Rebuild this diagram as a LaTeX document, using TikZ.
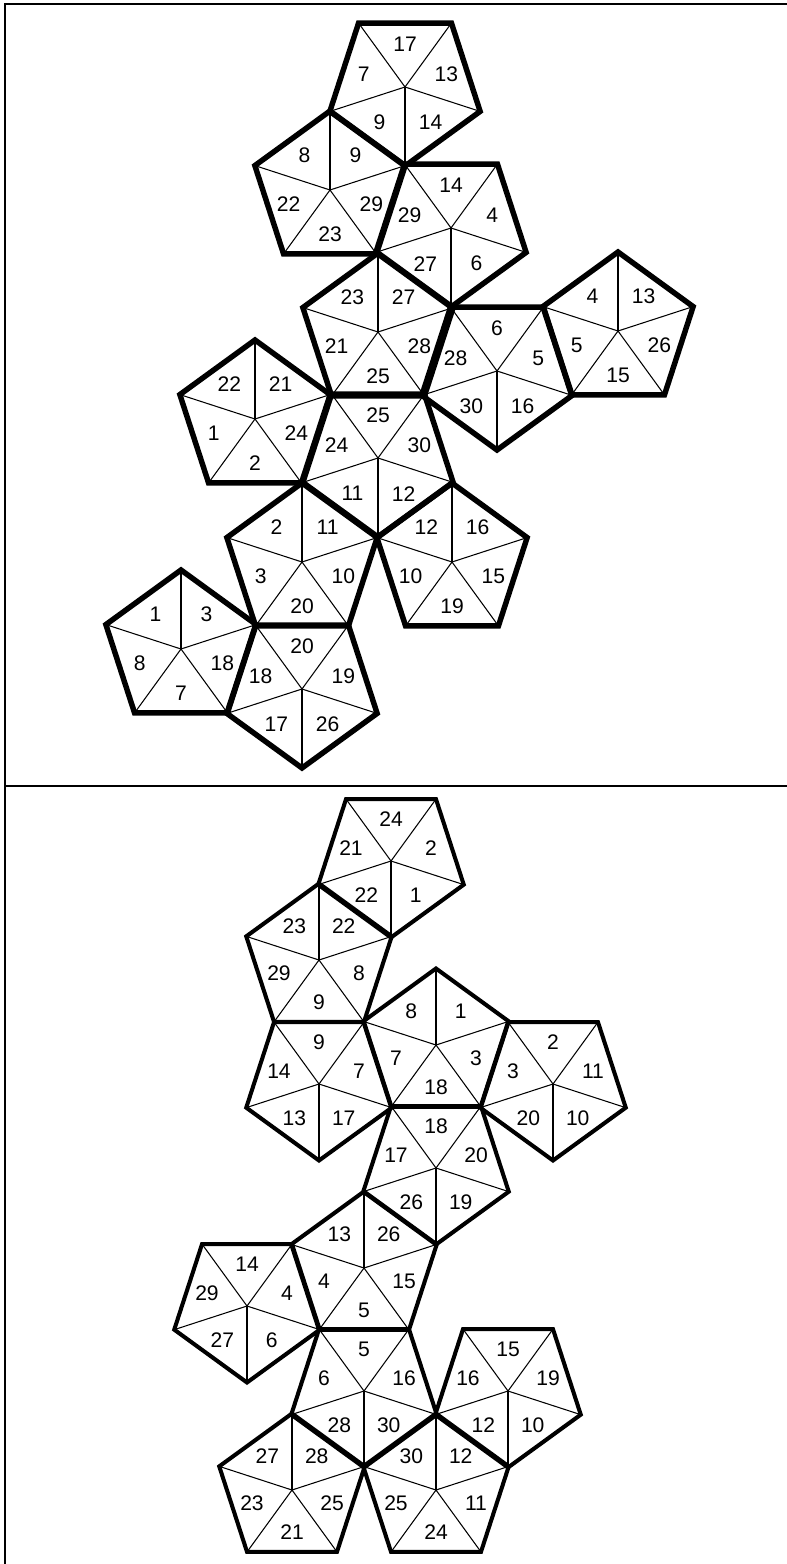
\documentclass[tikz,border=0pt]{standalone}
\usepackage{fontspec}
\setmainfont{Liberation Sans}
\newcommand{\pentagons}[3]{%
\foreach \n/\x/\y/\a/\lab in {#3}{
\coordinate (\n) at (\x,\y);
\foreach \k in {1,...,5}{\coordinate (\n-v\k) at ([shift={(\a+36+72*\k:#1)}]\n);\draw[spoke] (\n)--(\n-v\k);}
\foreach \t [count=\k] in \lab{\node[numlab] (\n-l\k) at ([shift={(\a+72*\k-72:.55*#1)}]\n){\t};}
\draw[line width=#2,miter limit=10] (\n-v1)--(\n-v2)--(\n-v3)--(\n-v4)--(\n-v5)--cycle;
}}
\tikzset{spoke/.style={line width=.6pt},numlab/.style={font=\fontsize{12}{14}\selectfont,inner sep=0pt,yshift=-.3pt}}
\begin{document}
\begin{tikzpicture}[x=.02cm,y=-.02cm]
\useasboundingbox (0,0) rectangle (787,1564);
\draw[line width=1.5pt] (5,1564)--(5,4)--(787,4);
\draw[line width=1.5pt] (5,786)--(787,786);
% upper net
\pentagons{79}{3.1pt}{
a1/405/87/-90/{17,13,14,9,7},a2/330/190/-126/{8,9,29,23,22},a3/451/228/-90/{14,4,6,27,29},
a4/378/332/-126/{23,27,28,25,21},a5/497/371/-90/{6,5,16,30,28},a6/618/331/-126/{4,13,26,15,5},
a7/255/419/-126/{22,21,24,2,1},a8/378/458/-90/{25,30,12,11,24},a9/302/562/-126/{2,11,10,20,3},
a10/452/562/-126/{12,16,15,19,10},a11/181/649/-126/{1,3,18,7,8},a12/302/689/-90/{20,19,26,17,18}}
% lower net
\pentagons{76.5}{2.3pt}{
b1/391/861/-90/{24,2,1,22,21},b2/319/960/-126/{23,22,8,9,29},b3/436/1045/-126/{8,1,3,18,7},
b4/319/1084/-90/{9,7,17,13,14},b5/553/1084/-90/{2,11,10,20,3},b6/436/1168/-90/{18,20,19,26,17},
b7/364/1268/-126/{13,26,15,5,4},b8/247/1306/-90/{14,4,6,27,29},b9/364/1391/-90/{5,16,30,28,6},
b10/508/1391/-90/{15,19,10,12,16},b11/292/1490/-126/{27,28,25,21,23},b12/436/1490/-126/{30,12,11,24,25}}
\end{tikzpicture}
\end{document}
